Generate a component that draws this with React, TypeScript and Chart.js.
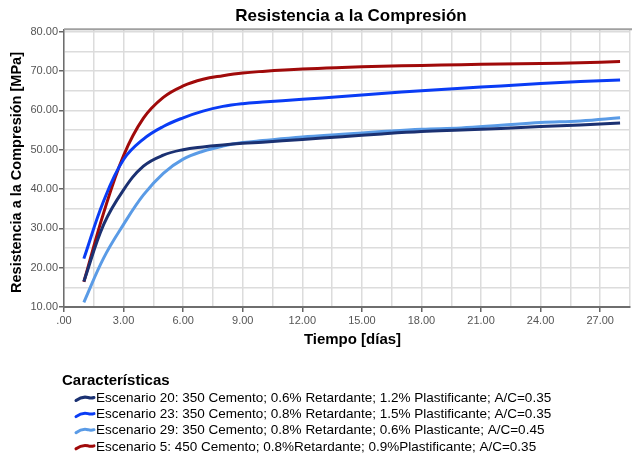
import React, { useEffect, useRef } from 'react';
import { Chart, registerables } from 'chart.js';

Chart.register(...registerables);

const chartTitle = 'Resistencia a la Compresión';
const xTitle = 'Tiempo [días]';
const yTitle = 'Resistencia a la Compresión [MPa]';
const legendTitle = 'Características';

const days = [1, 2, 3, 4, 5, 6, 7, 8, 9, 10, 12, 14, 16, 18, 20, 22, 24, 26, 28];
const esc20 = [16.5, 31.0, 39.8, 45.8, 48.6, 50.0, 50.7, 51.2, 51.6, 51.9, 52.6, 53.3, 54.0, 54.6, 55.0, 55.4, 55.9, 56.3, 56.8];
const esc23 = [22.3, 37.0, 47.5, 52.7, 55.9, 58.1, 59.8, 61.0, 61.7, 62.1, 62.8, 63.5, 64.3, 65.0, 65.6, 66.2, 66.8, 67.3, 67.7];
const esc29 = [11.2, 22.5, 31.0, 38.5, 44.0, 47.6, 49.6, 50.9, 51.8, 52.3, 53.2, 53.9, 54.6, 55.2, 55.5, 56.2, 56.9, 57.3, 58.1];
const esc5 = [16.4, 34.0, 48.5, 58.0, 63.3, 66.2, 67.9, 68.8, 69.5, 69.9, 70.5, 70.9, 71.2, 71.4, 71.6, 71.8, 71.9, 72.1, 72.4];

const seriesLabels = [
  'Escenario 20: 350 Cemento; 0.6% Retardante; 1.2% Plastificante; A/C=0.35',
  'Escenario 23: 350 Cemento; 0.8% Retardante; 1.5% Plastificante; A/C=0.35',
  'Escenario 29: 350 Cemento; 0.8% Retardante; 0.6% Plasticante; A/C=0.45',
  'Escenario 5: 450 Cemento; 0.8%Retardante; 0.9%Plastificante; A/C=0.35',
];
const seriesValues = [esc20, esc23, esc29, esc5];
const seriesColors = ['#1b3172', '#0a3cf5', '#5a9be6', '#a00a0a'];

const xGridValues = [0, 1.5, 3, 4.5, 6, 7.5, 9, 10.5, 12, 13.5, 15, 16.5, 18, 19.5, 21, 22.5, 24, 25.5, 27, 28.5];
const xLabelValues = [0, 3, 6, 9, 12, 15, 18, 21, 24, 27];
const yGridValues = [10, 15, 20, 25, 30, 35, 40, 45, 50, 55, 60, 65, 70, 75, 80];
const yLabelValues = [10, 20, 30, 40, 50, 60, 70, 80];

const FONT = 'Arial, "Liberation Sans", sans-serif';

const fmt = (v: number) => (v === 0 ? '.00' : v.toFixed(2));

const decorPlugin = {
  id: 'decor',
  afterDraw(chart: any) {
    const { ctx, chartArea } = chart;
    ctx.save();
    // top frame line
    ctx.strokeStyle = '#a0a0a0';
    ctx.lineWidth = 2;
    ctx.beginPath();
    ctx.moveTo(chartArea.left, chartArea.top);
    ctx.lineTo(chart.width, chartArea.top);
    ctx.stroke();
    // title
    ctx.fillStyle = '#000';
    ctx.font = `bold 17px ${FONT}`;
    ctx.textAlign = 'center';
    ctx.textBaseline = 'middle';
    ctx.fillText(chartTitle, 351, 16);
    // axis titles
    ctx.font = `bold 15px ${FONT}`;
    ctx.fillText(xTitle, 352.5, 340);
    ctx.save();
    ctx.translate(17, 172.5);
    ctx.rotate(-Math.PI / 2);
    ctx.font = `bold 14.5px ${FONT}`;
    ctx.fillText(yTitle, 0, 0);
    ctx.restore();
    // legend
    ctx.textAlign = 'left';
    ctx.font = `bold 15px ${FONT}`;
    ctx.fillText(legendTitle, 62, 381);
    ctx.font = `13.5px ${FONT}`;
    seriesLabels.forEach((lab, i) => {
      const y = 398.5 + 16.1 * i;
      ctx.strokeStyle = seriesColors[i];
      ctx.lineWidth = 3;
      ctx.lineCap = 'round';
      ctx.beginPath();
      ctx.moveTo(76, y + 2);
      ctx.bezierCurveTo(80, y - 1, 84, y - 2, 88, y - 1);
      ctx.quadraticCurveTo(91, y, 94, y - 1);
      ctx.stroke();
      ctx.fillStyle = '#000';
      ctx.fillText(lab, 96, y);
    });
    ctx.restore();
  },
};

export default function App() {
  const ref = useRef<HTMLCanvasElement | null>(null);

  useEffect(() => {
    if (!ref.current) return;
    const chart = new Chart(ref.current, {
      type: 'line',
      data: {
        datasets: seriesValues.map((vals, i) => ({
          label: seriesLabels[i],
          data: days.map((d, j) => ({ x: d, y: vals[j] })),
          borderColor: seriesColors[i],
          backgroundColor: seriesColors[i],
          borderWidth: 3,
          pointRadius: 0,
          fill: false,
          tension: 0.4,
        })),
      },
      options: {
        animation: false,
        responsive: false,
        devicePixelRatio: 1,
        layout: { padding: { top: 29.3, right: 2, bottom: 106, left: 0 } },
        plugins: {
          legend: { display: false },
          title: { display: false },
          tooltip: { enabled: false },
        },
        scales: {
          x: {
            type: 'linear',
            min: 0,
            max: 28.5,
            afterBuildTicks: (scale: any) => {
              scale.ticks = xGridValues.map((v) => ({ value: v }));
            },
            afterFit: (scale: any) => {
              scale.height = 45;
            },
            ticks: {
              autoSkip: false,
              maxRotation: 0,
              padding: 2,
              color: '#555',
              font: { family: FONT, size: 11 },
              callback: (v: any) => (xLabelValues.includes(Number(v)) ? fmt(Number(v)) : ''),
            },
            grid: {
              color: '#dcdcdc',
              lineWidth: 1.5,
              tickLength: 5,
              tickColor: (c: any) => (c.tick && xLabelValues.includes(c.tick.value) ? '#666' : 'rgba(0,0,0,0)'),
            },
            border: { color: '#6e6e6e', width: 2 },
            title: { display: false },
          },
          y: {
            type: 'linear',
            min: 10,
            max: 80.6,
            afterBuildTicks: (scale: any) => {
              scale.ticks = yGridValues.map((v) => ({ value: v }));
            },
            afterFit: (scale: any) => {
              scale.width = 64;
            },
            ticks: {
              autoSkip: false,
              padding: 1,
              color: '#555',
              font: { family: FONT, size: 11 },
              callback: (v: any) => (yLabelValues.includes(Number(v)) ? Number(v).toFixed(2) : ''),
            },
            grid: {
              color: '#dcdcdc',
              lineWidth: 1.5,
              tickLength: 5,
              tickColor: (c: any) => (c.tick && yLabelValues.includes(c.tick.value) ? '#666' : 'rgba(0,0,0,0)'),
            },
            border: { color: '#6e6e6e', width: 1.5 },
            title: { display: false },
          },
        },
      },
      plugins: [decorPlugin],
    });
    return () => chart.destroy();
  }, []);

  return (
    <div style={{ position: 'absolute', left: 0, top: 0, width: 632, height: 458, background: '#fff' }}>
      <canvas ref={ref} width={632} height={458} style={{ display: 'block', width: 632, height: 458 }} />
    </div>
  );
}
